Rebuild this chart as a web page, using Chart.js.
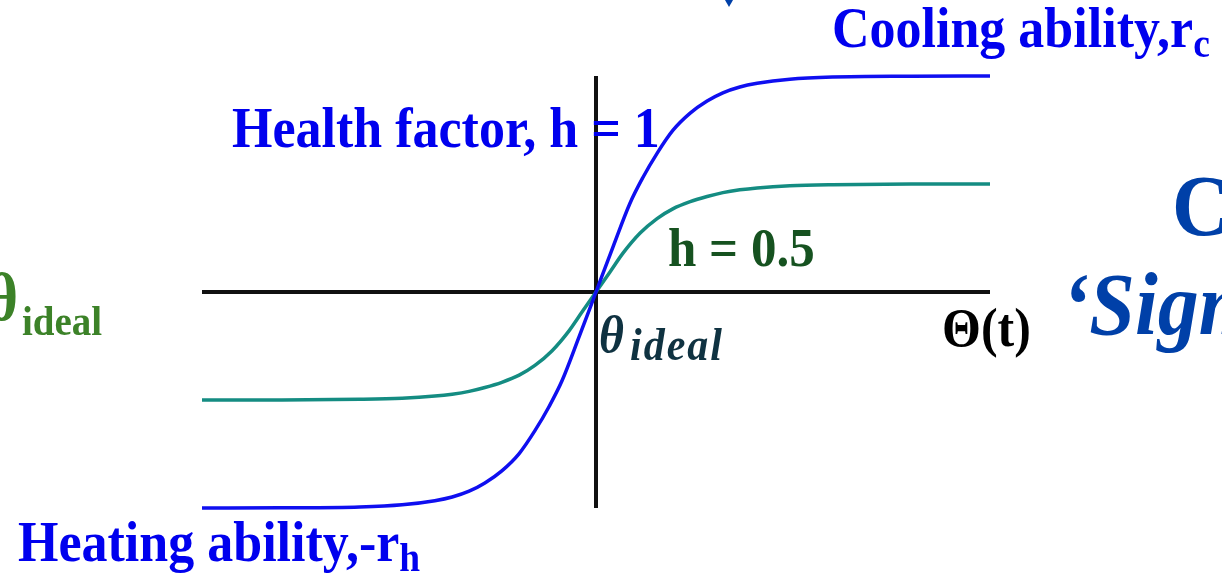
<!DOCTYPE html>
<html lang="en">
<head>
<meta charset="UTF-8">
<title>Sigmoid health factor</title>
<script src="https://cdn.jsdelivr.net/npm/chart.js@4.4.1/dist/chart.umd.min.js"></script>
<style>
  html, body { margin: 0; padding: 0; background: #fff; overflow: hidden; }
  #wrap { position: relative; width: 1222px; height: 573px; overflow: hidden; }
  #wrap canvas { position: absolute; left: 0; top: 0; }
  .lbl { position: absolute; white-space: nowrap; line-height: 1; font-family: "Liberation Serif", "Times New Roman", serif; font-weight: bold;
         transform: scaleY(1.08); transform-origin: 0 84%; }
  .lbl sub { font-size: 0.72em; vertical-align: -0.24em; line-height: 0; }
  .tri { position: absolute; left: 725px; top: 0; width: 0; height: 0;
         border-left: 4px solid transparent; border-right: 4px solid transparent; border-top: 7px solid #0040a8; }
</style>
</head>
<body>
<div id="wrap">
  <canvas id="myChart" width="1222" height="573"></canvas>
  <div class="tri"></div>
  <div class="lbl" style="left:832px;top:4px;font-size:52px;color:#0000ee;">Cooling ability,r<sub>c</sub></div>
  <div class="lbl" style="left:232px;top:104px;font-size:52px;color:#0000ee;">Health factor, h = 1</div>
  <div class="lbl" style="left:18px;top:518px;font-size:52px;color:#0000ee;">Heating ability,-r<sub>h</sub></div>
  <div class="lbl" style="left:668px;top:224px;font-size:51px;color:#165220;">h = 0.5</div>
  <div class="lbl" style="left:942px;top:304px;font-size:50px;color:#000;">&Theta;(t)</div>
  <div class="lbl" style="left:1172px;top:168px;font-size:80px;color:#0040a8;">C</div>
  <div class="lbl" style="left:1062px;top:266px;font-size:82px;color:#0040a8;font-style:italic;">&lsquo;Sigmoid&rsquo;</div>
  <div class="lbl" style="left:599px;top:312px;font-size:48px;color:#0f3241;font-style:italic;">&theta;</div>
  <div class="lbl" style="left:630px;top:325px;font-size:42px;color:#0f3241;font-style:italic;letter-spacing:2px;">ideal</div>
  <div class="lbl" style="right:1204px;top:268px;font-size:62px;color:#3c8228;">&theta;</div>
  <div class="lbl" style="left:22px;top:302px;font-size:39px;color:#3c8228;">ideal</div>
</div>
<script>
// curve for health factor h = 1
var blueX = [-1, -0.8, -0.6, -0.492, -0.409, -0.365, -0.322, -0.282, -0.239, -0.195, -0.155, -0.119, -0.086, -0.043, 0,
             0.043, 0.086, 0.119, 0.155, 0.195, 0.239, 0.282, 0.322, 0.365, 0.409, 0.492, 0.6, 0.8, 1];
var blueY = [-1, -0.999, -0.995, -0.985, -0.966, -0.949, -0.922, -0.884, -0.828, -0.748, -0.642, -0.530, -0.410, -0.208, 0,
             0.208, 0.410, 0.530, 0.642, 0.748, 0.828, 0.884, 0.922, 0.949, 0.966, 0.985, 0.995, 0.999, 1];

// curve for health factor h = 0.5
var tealX = [-1, -0.8, -0.6, -0.492, -0.409, -0.365, -0.322, -0.282, -0.239, -0.195, -0.155, -0.112, -0.069, -0.036, 0,
             0.036, 0.069, 0.112, 0.155, 0.195, 0.239, 0.282, 0.322, 0.365, 0.409, 0.492, 0.6, 0.8, 1];
var tealY = [-0.5, -0.5, -0.497, -0.492, -0.482, -0.473, -0.460, -0.442, -0.418, -0.385, -0.340, -0.273, -0.181, -0.094, 0,
             0.094, 0.181, 0.273, 0.340, 0.385, 0.418, 0.442, 0.460, 0.473, 0.482, 0.492, 0.497, 0.5, 0.5];

// the two axes through theta_ideal
var axisH = [{x: -1, y: 0}, {x: 1, y: 0}];
var axisV = [{x: 0, y: -1}, {x: 0, y: 1}];

function toPoints(xs, ys) {
  return xs.map(function (x, i) { return {x: x, y: ys[i]}; });
}

var ctx = document.getElementById('myChart').getContext('2d');
var chart = new Chart(ctx, {
  type: 'line',
  data: {
    datasets: [
      { data: axisH, borderColor: '#111', borderWidth: 4, tension: 0, order: 3 },
      { data: axisV, borderColor: '#111', borderWidth: 4, tension: 0, order: 3 },
      { data: toPoints(tealX, tealY), borderColor: 'rgb(20,140,130)', borderWidth: 3.5, cubicInterpolationMode: 'monotone', order: 2 },
      { data: toPoints(blueX, blueY), borderColor: 'rgb(15,15,240)', borderWidth: 3.5, cubicInterpolationMode: 'monotone', order: 1 }
    ]
  },
  options: {
    responsive: false,
    animation: false,
    clip: false,
    layout: { padding: { left: 202, right: 232, top: 76, bottom: 65 } },
    elements: { point: { radius: 0 }, line: { borderCapStyle: 'butt' } },
    plugins: { legend: { display: false }, tooltip: { enabled: false } },
    scales: {
      x: { type: 'linear', min: -1, max: 1, display: false },
      y: { type: 'linear', min: -1, max: 1, display: false }
    }
  }
});
</script>
</body>
</html>
